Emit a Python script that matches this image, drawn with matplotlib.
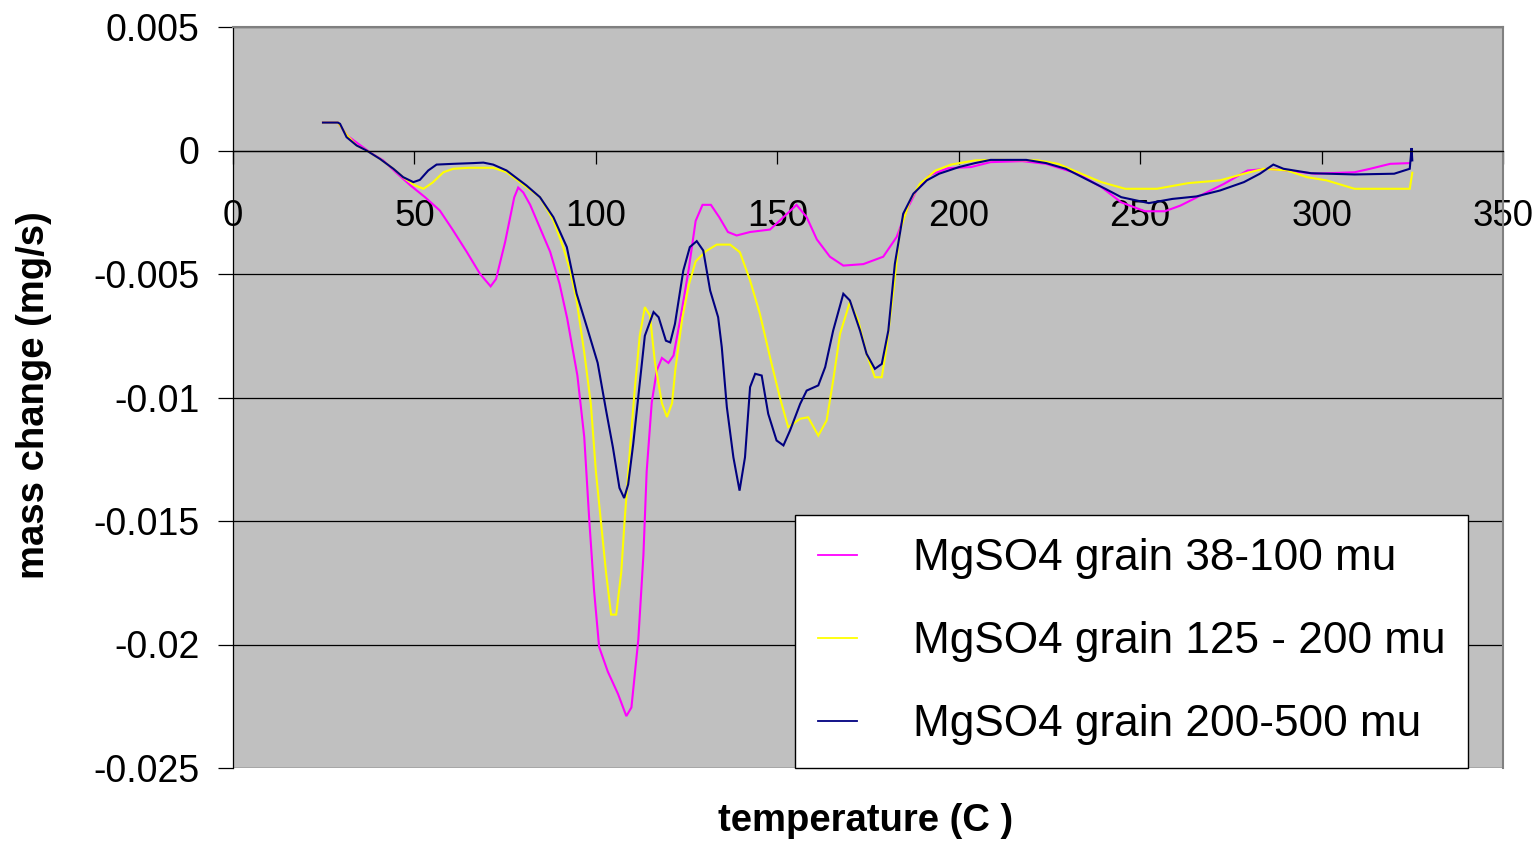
import matplotlib
matplotlib.use("Agg")
import matplotlib.pyplot as plt
from matplotlib.ticker import FixedLocator, FixedFormatter

plt.rcParams['font.family'] = ['Liberation Sans', 'DejaVu Sans']
plt.rcParams['axes.unicode_minus'] = False

# ---- data ----
series_labels = ["MgSO4 grain 38-100 mu", "MgSO4 grain 125 - 200 mu", "MgSO4 grain 200-500 mu"]
series_colors = ["#FF00FF", "#FFFF00", "#000080"]

t_fine = [24.8, 28.9, 31.5, 35, 38, 41.4, 45, 48.8, 53, 57, 60.5, 64.4, 68.1, 71.0, 72.5, 75, 77.5,
          78.6, 80, 81.9, 84.5, 87.4, 90, 92.1, 94.9, 96.8, 98.2, 99.5, 100.9, 103.3, 106.1, 108.4,
          109.8, 111.7, 113.1, 114, 115.4, 116.8, 118.2, 120, 121.4, 123.3, 125.6, 127.5, 129.4,
          131.7, 134, 136.4, 138.8, 142.5, 148, 151.7, 155.3, 158.1, 160.9, 164.5, 168.2, 173.7,
          179.2, 182.9, 185.7, 188.4, 192, 197, 203.4, 208.8, 217.5, 224.1, 232.8, 239.3, 244.8,
          251.3, 256.8, 261.1, 267.6, 273.1, 279.6, 285.1, 290.5, 298.2, 309.1, 313.4, 318.9, 324.3]
m_fine = [0.00113, 0.00113, 0.0006, 0.00022, -0.0001, -0.0004, -0.0009, -0.0014, -0.0019, -0.00243,
          -0.0032, -0.0041, -0.0050, -0.0055, -0.0052, -0.0037, -0.0019, -0.0015, -0.0017, -0.0022,
          -0.0031, -0.0041, -0.0054, -0.0068, -0.0091, -0.0116, -0.0150, -0.0178, -0.0201, -0.0211,
          -0.0220, -0.0229, -0.02255, -0.0198, -0.0164, -0.0130, -0.0102, -0.0089, -0.0084, -0.0086,
          -0.0083, -0.0068, -0.0048, -0.00285, -0.0022, -0.0022, -0.0027, -0.0033, -0.00344, -0.0033,
          -0.0032, -0.0027, -0.0022, -0.0027, -0.0036, -0.0043, -0.00466, -0.0046, -0.0043, -0.0035,
          -0.0024, -0.0016, -0.0010, -0.00072, -0.00067, -0.00047, -0.00043, -0.00054, -0.00094,
          -0.00148, -0.0021, -0.00246, -0.00246, -0.00223, -0.00175, -0.00135, -0.00081, -0.00074,
          -0.00081, -0.00094, -0.00088, -0.00074, -0.00054, -0.00051]

t_medium = [24.8, 28.9, 31.5, 34.1, 36.8, 40.5, 44.2, 47, 50, 52.5, 55, 58, 60.7, 65, 71.7, 75.4,
            80.9, 84.6, 88.3, 91, 92.9, 94.7, 96.8, 98.6, 100, 101.4, 102.8, 104.2, 105.6, 107,
            107.9, 109.3, 110.7, 112.1, 113.5, 114.9, 116.3, 118.2, 119.6, 121, 121.9, 123.8,
            125.6, 127.5, 130.3, 133.3, 137, 139.7, 142.5, 145.2, 148, 150.7, 153, 156.3, 158.5,
            161.3, 163.6, 165.4, 167.3, 170, 172.3, 174.6, 176.9, 178.8, 180.1, 182, 183.8, 186.6,
            189.3, 193.6, 197.9, 204.5, 211, 221.9, 227.4, 232.8, 239.3, 245.9, 254.6, 263.3, 272,
            278.6, 284, 290.5, 296, 301.4, 309.1, 324.3, 325]
m_medium = [0.00113, 0.00113, 0.0006, 0.0002, 0.0, -0.00034, -0.00074, -0.0011, -0.0014, -0.00155,
            -0.0013, -0.00088, -0.00074, -0.0007, -0.0007, -0.00088, -0.00148, -0.00189, -0.00283,
            -0.00391, -0.00486, -0.00607, -0.00818, -0.01023, -0.01298, -0.01503, -0.01708,
            -0.01879, -0.01879, -0.01708, -0.01503, -0.01229, -0.00969, -0.0075, -0.00634,
            -0.00668, -0.0086, -0.01023, -0.01079, -0.01023, -0.00887, -0.00681, -0.00545,
            -0.00449, -0.00408, -0.00381, -0.00381, -0.00412, -0.00526, -0.00661, -0.00837,
            -0.00999, -0.0112, -0.01086, -0.0108, -0.01154, -0.01093, -0.00931, -0.00742, -0.00614,
            -0.00688, -0.00823, -0.00918, -0.00918, -0.00796, -0.00567, -0.00324, -0.00202,
            -0.00135, -0.00081, -0.00057, -0.0004, -0.00038, -0.0004, -0.00054, -0.00088, -0.00128,
            -0.00155, -0.00155, -0.00132, -0.00121, -0.00094, -0.00074, -0.00081, -0.00108,
            -0.00121, -0.00155, -0.00155, -0.0009]

t_coarse = [24.8, 28.9, 29.5, 31.3, 34.1, 36.8, 40.5, 44.2, 46.9, 49.7, 51.5, 53.8, 56.1, 60.7,
            66.2, 69, 71.7, 75.4, 80.9, 84.6, 88.3, 92, 94.7, 97.7, 100.5, 102.8, 104.7, 106.5,
            107.8, 108.9, 110.3, 111.7, 113.5, 115.9, 117.3, 119.3, 120.5, 121.8, 124.1, 125.9,
            127.8, 129.6, 131.5, 133.7, 134.7, 136.1, 137.9, 139.6, 141.1, 142.5, 143.9, 145.7,
            147.5, 149.8, 151.7, 153.5, 156.3, 158.1, 161.3, 163.2, 165.4, 168.2, 170, 172.8,
            174.6, 176.9, 178.8, 180.6, 182.4, 184.7, 187.5, 191.2, 194.6, 200.1, 204.5, 208.8,
            218.6, 224.1, 229.5, 235, 240.4, 244.8, 252.4, 258.9, 265.5, 272, 278.6, 283, 286.7,
            289.5, 297.1, 309.1, 320, 324.3, 324.8, 325]
m_coarse = [0.00113, 0.00113, 0.00108, 0.00054, 0.0002, 0.0, -0.00034, -0.00074, -0.00108,
            -0.00128, -0.00119, -0.00081, -0.00057, -0.00054, -0.00051, -0.00049, -0.00057,
            -0.00081, -0.00142, -0.00189, -0.0027, -0.00391, -0.0058, -0.00723, -0.0086, -0.01051,
            -0.01202, -0.01366, -0.01407, -0.01352, -0.01188, -0.00996, -0.0075, -0.00654,
            -0.00675, -0.0077, -0.00777, -0.00702, -0.00486, -0.00391, -0.00367, -0.00405,
            -0.00567, -0.00675, -0.00796, -0.01039, -0.01242, -0.01377, -0.01242, -0.00958,
            -0.00904, -0.00911, -0.01066, -0.01174, -0.01194, -0.01134, -0.01026, -0.00972,
            -0.00951, -0.00877, -0.00729, -0.0058, -0.00607, -0.00729, -0.00823, -0.00884,
            -0.00864, -0.00729, -0.00459, -0.00256, -0.00175, -0.00121, -0.00094, -0.00067,
            -0.00051, -0.00038, -0.00038, -0.00051, -0.00074, -0.00115, -0.00155, -0.00189,
            -0.00213, -0.00196, -0.00186, -0.00162, -0.00128, -0.00094, -0.00057, -0.00074,
            -0.00092, -0.00097, -0.00094, -0.00074, 0.0001, -0.0004]

x_ticks = [0, 50, 100, 150, 200, 250, 300, 350]
x_tick_labels = ["0", "50", "100", "150", "200", "250", "300", "350"]
y_ticks = [-0.025, -0.02, -0.015, -0.01, -0.005, 0, 0.005]
y_tick_labels = ["-0.025", "-0.02", "-0.015", "-0.01", "-0.005", "0", "0.005"]
x_label = "temperature (C )"
y_label = "mass change (mg/s)"

# ---- figure ----
W, H = 1538, 841
fig = plt.figure(figsize=(W / 100, H / 100), dpi=100)
ax = fig.add_axes([233 / W, 1 - 768 / H, (1503 - 233) / W, (768 - 27) / H])
ax.set_facecolor("#C0C0C0")

for t, m, c, lab in zip([t_fine, t_medium, t_coarse], [m_fine, m_medium, m_coarse],
                        series_colors, series_labels):
    ax.plot(t, m, color=c, lw=1.5, label=lab, solid_joinstyle='miter')

ax.set_xlim(0, 350)
ax.set_ylim(-0.025, 0.005)
ax.xaxis.set_major_locator(FixedLocator(x_ticks))
ax.xaxis.set_major_formatter(FixedFormatter(x_tick_labels))
ax.yaxis.set_major_locator(FixedLocator(y_ticks))
ax.yaxis.set_major_formatter(FixedFormatter(y_tick_labels))

ax.grid(axis='y', color='black', lw=0.9)
ax.set_axisbelow(True)

ax.spines['bottom'].set_position(('data', 0))
ax.spines['bottom'].set_color('black')
ax.spines['bottom'].set_linewidth(0.9)
ax.spines['left'].set_color('black')
ax.spines['left'].set_linewidth(0.9)
for s in ['top', 'right']:
    ax.spines[s].set_color('#808080')
    ax.spines[s].set_linewidth(1.5)

ax.tick_params(axis='x', direction='out', length=9, width=0.9, pad=26, labelsize=26.5)
ax.tick_params(axis='y', direction='out', length=11, width=0.9, pad=13, labelsize=27)

fig.text(34 / W, 1 - 395 / H, y_label, rotation=90, ha='center', va='center',
         fontsize=27.5, fontweight='bold')
fig.text(866 / W, 1 - 821 / H, x_label, ha='center', va='center',
         fontsize=27.5, fontweight='bold')

leg = ax.legend(loc='lower right', bbox_to_anchor=((1468 - 233) / 1270, 0.0),
                borderaxespad=0, fontsize=31.8, frameon=True, fancybox=False,
                framealpha=1, edgecolor='black', handlelength=0.9, handletextpad=1.25,
                borderpad=0.52, labelspacing=0.95)
leg.get_frame().set_linewidth(1.0)
for h in leg.get_lines():
    h.set_linewidth(1.3)

fig.savefig("out.png", dpi=100)
